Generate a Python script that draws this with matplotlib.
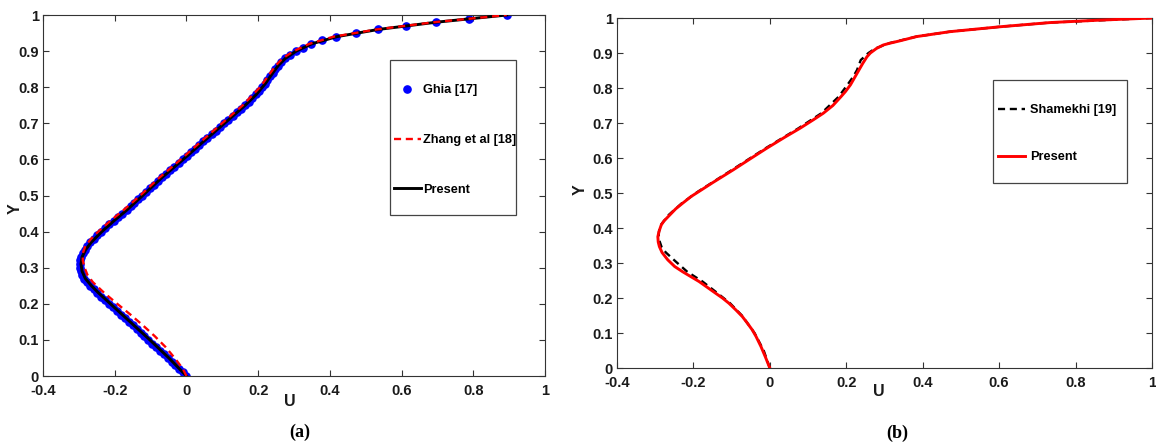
"""Centreline U-velocity profiles: validation plots (a) and (b)."""

import matplotlib

matplotlib.use("Agg")
import matplotlib.pyplot as plt  # noqa: E402
from matplotlib.patches import Rectangle  # noqa: E402

INK, SPINE = "#1a1a1a", "#333333"
plt.rcParams["font.family"] = ["Liberation Sans", "DejaVu Sans"]
plt.rcParams["font.weight"] = "bold"

# ---- panel (a): Ghia [17] points, Zhang et al [18], present ----
ghia_y = [0.00, 0.01, 0.02, 0.03, 0.04, 0.05, 0.06, 0.07, 0.08, 0.09,
          0.10, 0.11, 0.12, 0.13, 0.14, 0.15, 0.16, 0.17, 0.18, 0.19,
          0.20, 0.21, 0.22, 0.23, 0.24, 0.25, 0.26, 0.27, 0.28, 0.29,
          0.30, 0.31, 0.32, 0.33, 0.34, 0.35, 0.36, 0.37, 0.38, 0.39,
          0.40, 0.41, 0.42, 0.43, 0.44, 0.45, 0.46, 0.47, 0.48, 0.49,
          0.50, 0.51, 0.52, 0.53, 0.54, 0.55, 0.56, 0.57, 0.58, 0.59,
          0.60, 0.61, 0.62, 0.63, 0.64, 0.65, 0.66, 0.67, 0.68, 0.69,
          0.70, 0.71, 0.72, 0.73, 0.74, 0.75, 0.76, 0.77, 0.78, 0.79,
          0.80, 0.81, 0.82, 0.83, 0.84, 0.85, 0.86, 0.87, 0.88, 0.89,
          0.90, 0.91, 0.92, 0.93, 0.94, 0.95, 0.96, 0.97, 0.98, 0.99, 1.00]
ghia_u = [0.000, -0.010, -0.020, -0.031, -0.041, -0.052, -0.063, -0.073, -0.084, -0.095,
          -0.106, -0.117, -0.128, -0.139, -0.150, -0.161, -0.172, -0.183, -0.194, -0.205,
          -0.216, -0.227, -0.238, -0.249, -0.259, -0.269, -0.278, -0.285, -0.290, -0.294,
          -0.296, -0.297, -0.296, -0.293, -0.289, -0.283, -0.276, -0.268, -0.259, -0.249,
          -0.238, -0.227, -0.215, -0.203, -0.191, -0.179, -0.167, -0.156, -0.145, -0.134,
          -0.123, -0.113, -0.102, -0.091, -0.080, -0.069, -0.058, -0.046, -0.034, -0.022,
          -0.010, 0.001, 0.012, 0.024, 0.035, 0.047, 0.058, 0.070, 0.082, 0.093,
          0.105, 0.117, 0.129, 0.140, 0.152, 0.163, 0.174, 0.184, 0.194, 0.203,
          0.211, 0.219, 0.226, 0.233, 0.240, 0.247, 0.255, 0.264, 0.274, 0.288,
          0.305, 0.324, 0.348, 0.377, 0.418, 0.473, 0.535, 0.612, 0.696, 0.788, 0.893]

zhang_y = [0.00, 0.02, 0.05, 0.08, 0.11, 0.14, 0.17, 0.20, 0.23, 0.26, 0.28,
           0.30, 0.32, 0.34, 0.36, 0.38, 0.40, 0.43, 0.46, 0.50, 0.55, 0.60,
           0.65, 0.70, 0.75, 0.80, 0.83, 0.86, 0.88, 0.90, 0.92, 0.94, 0.96,
           0.98, 1.00]
zhang_u = [0.000, -0.010, -0.033, -0.058, -0.088, -0.121, -0.156, -0.193, -0.229,
           -0.261, -0.276, -0.284, -0.289, -0.289, -0.282, -0.266, -0.246, -0.212,
           -0.175, -0.129, -0.075, -0.016, 0.041, 0.099, 0.157, 0.205, 0.227,
           0.249, 0.268, 0.299, 0.342, 0.410, 0.530, 0.690, 0.893]

present_a_y = [0.00, 0.05, 0.10, 0.15, 0.20, 0.23, 0.25, 0.27, 0.29, 0.31, 0.33,
               0.35, 0.37, 0.40, 0.43, 0.46, 0.50, 0.55, 0.60, 0.65, 0.70, 0.75,
               0.78, 0.81, 0.84, 0.86, 0.88, 0.90, 0.92, 0.94, 0.96, 0.98, 1.00]
present_a_u = [0.000, -0.049, -0.102, -0.157, -0.212, -0.245, -0.265, -0.282,
               -0.291, -0.294, -0.291, -0.281, -0.266, -0.236, -0.202, -0.166,
               -0.122, -0.068, -0.009, 0.048, 0.106, 0.164, 0.195, 0.220, 0.241,
               0.256, 0.276, 0.306, 0.349, 0.419, 0.535, 0.696, 0.893]

# ---- panel (b): Shamekhi [19], present ----
shamekhi_y = [0.000, 0.05, 0.10, 0.15, 0.185, 0.213, 0.247, 0.275, 0.304, 0.33,
              0.345, 0.361, 0.375, 0.39, 0.409, 0.437, 0.471, 0.504, 0.566, 0.628,
              0.685, 0.728, 0.775, 0.809, 0.832, 0.851, 0.88, 0.90, 0.913, 0.928,
              0.947, 0.961, 0.975, 0.987, 1.000]
shamekhi_u = [0.000, -0.016, -0.040, -0.073, -0.104, -0.136, -0.176, -0.216,
              -0.246, -0.272, -0.283, -0.288, -0.291, -0.290, -0.285, -0.265,
              -0.230, -0.188, -0.099, -0.011, 0.075, 0.135, 0.180, 0.203, 0.218,
              0.228, 0.238, 0.258, 0.276, 0.312, 0.384, 0.471, 0.602, 0.733, 1.000]

present_b_y = [0.000, 0.03, 0.061, 0.09, 0.109, 0.13, 0.147, 0.165, 0.185, 0.20,
               0.213, 0.23, 0.247, 0.26, 0.275, 0.29, 0.309, 0.33, 0.347, 0.36,
               0.375, 0.39, 0.409, 0.42, 0.437, 0.455, 0.471, 0.49, 0.504, 0.53,
               0.566, 0.60, 0.628, 0.66, 0.685, 0.71, 0.728, 0.75, 0.775, 0.79,
               0.809, 0.83, 0.851, 0.87, 0.889, 0.90, 0.913, 0.923, 0.928, 0.935,
               0.947, 0.961, 0.975, 0.987, 0.994, 1.000]
present_b_u = [0.000, -0.011, -0.023, -0.036, -0.046, -0.060, -0.072, -0.088,
               -0.107, -0.124, -0.141, -0.163, -0.185, -0.205, -0.228, -0.249,
               -0.267, -0.282, -0.289, -0.292, -0.293, -0.290, -0.284, -0.277,
               -0.262, -0.246, -0.228, -0.206, -0.186, -0.149, -0.096, -0.048,
               -0.008, 0.040, 0.079, 0.115, 0.140, 0.165, 0.186, 0.198, 0.211,
               0.222, 0.233, 0.243, 0.254, 0.263, 0.279, 0.297, 0.314, 0.341,
               0.384, 0.471, 0.602, 0.733, 0.864, 1.000]

x_ticks = [-0.4, -0.2, 0, 0.2, 0.4, 0.6, 0.8, 1]
x_labels = ["-0.4", "-0.2", "0", "0.2", "0.4", "0.6", "0.8", "1"]
y_ticks = [0, 0.1, 0.2, 0.3, 0.4, 0.5, 0.6, 0.7, 0.8, 0.9, 1]
y_labels = ["0", "0.1", "0.2", "0.3", "0.4", "0.5", "0.6", "0.7", "0.8", "0.9", "1"]


def style_axes(ax, xlab_pos, ylab_pos):
    ax.set_xlim(-0.4, 1)
    ax.set_ylim(0, 1)
    ax.set_xticks(x_ticks)
    ax.set_xticklabels(x_labels)
    ax.set_yticks(y_ticks)
    ax.set_yticklabels(y_labels)
    ax.tick_params(direction="in", length=4, width=0.8, color=SPINE,
                   labelsize=10.5, labelcolor=INK, top=True, right=True)
    ax.tick_params(axis="x", pad=5.5)
    ax.tick_params(axis="y", pad=3)
    for lab in ax.get_xticklabels() + ax.get_yticklabels():
        lab.set_fontweight("bold")
    for sp in ax.spines.values():
        sp.set_color(SPINE)
        sp.set_linewidth(0.8)
    ax.set_xlabel("U", fontsize=11.5, fontweight="bold", color=INK)
    ax.set_ylabel("Y", fontsize=11.5, fontweight="bold", color=INK)
    ax.xaxis.set_label_coords(*xlab_pos)
    ax.yaxis.set_label_coords(*ylab_pos)


def legend_box(ax, x, y, w, h):
    ax.add_patch(Rectangle((x, y), w, h, transform=ax.transAxes, fill=False,
                           edgecolor="#444444", lw=0.9, zorder=5))


fig = plt.figure(figsize=(11.56, 4.43), dpi=100)
ax1 = fig.add_axes([0.0372, 0.1512, 0.4343, 0.8149])
ax2 = fig.add_axes([0.5337, 0.1693, 0.4628, 0.7900])

# (a)
ax1.plot(ghia_u, ghia_y, "o", color="#0000ff", ms=5.2, mec="#0000ff",
         label="Ghia [17]", zorder=2)
ax1.plot(zhang_u, zhang_y, color="#ff0000", lw=1.7, ls=(0, (3, 2)),
         label="Zhang et al [18]", zorder=4)
ax1.plot(present_a_u, present_a_y, color="black", lw=2.1, label="Present", zorder=3)
style_axes(ax1, (0.492, -0.050), (-0.040, 0.465))
legend_box(ax1, 0.691, 0.446, 0.251, 0.429)
ax1.legend(loc="upper left", bbox_to_anchor=(0.699, 0.808), frameon=False,
           borderpad=0, borderaxespad=0, handlelength=2.1, handletextpad=0.15,
           labelspacing=2.95, prop={"size": 9.2, "weight": "bold"}, numpoints=1)

# (b)
ax2.plot(shamekhi_u, shamekhi_y, color="black", lw=1.7, ls=(0, (3, 2)),
         label="Shamekhi [19]", zorder=2)
ax2.plot(present_b_u, present_b_y, color="#ff0000", lw=2.1, label="Present", zorder=3)
style_axes(ax2, (0.49, -0.046), (-0.055, 0.509))
legend_box(ax2, 0.703, 0.529, 0.250, 0.294)
ax2.legend(loc="upper left", bbox_to_anchor=(0.712, 0.753), frameon=False,
           borderpad=0, borderaxespad=0, handlelength=2.15, handletextpad=0.4,
           labelspacing=2.72, prop={"size": 9.2, "weight": "bold"})

fig.text(0.2595, 0.0248, "(a)", family=["Liberation Serif", "DejaVu Serif"],
         fontsize=13, fontweight="bold", ha="center", va="center")
fig.text(0.7760, 0.0226, "(b)", family=["Liberation Serif", "DejaVu Serif"],
         fontsize=13, fontweight="bold", ha="center", va="center")

fig.savefig("out.png", dpi=100)
